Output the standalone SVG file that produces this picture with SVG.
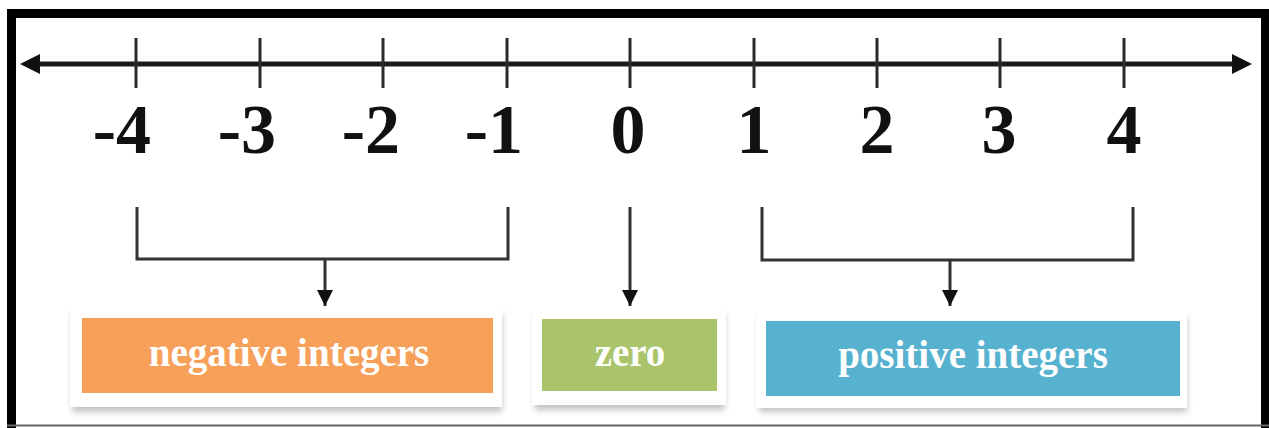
<svg xmlns="http://www.w3.org/2000/svg" width="1269" height="428" viewBox="0 0 1269 428">
  <defs>
    <style>
      .axis { stroke: #1a1a1a; stroke-width: 5; fill: none; }
      .tick { stroke: #2a2a2a; stroke-width: 3; }
      .num { font-family: "Liberation Serif", "Times New Roman", serif; font-weight: bold; font-size: 70px; fill: #111; }
      .conn { stroke: #333; stroke-width: 3; fill: none; }
      .lbl { font-family: "Liberation Serif", "Times New Roman", serif; font-weight: bold; font-size: 39px; fill: #ffffff; text-anchor: middle; }
      .card { fill: #ffffff; }
      .shadow { fill: #9a9a9a; opacity: 0.6; }
    </style>
    <filter id="blur" x="-10%" y="-20%" width="120%" height="140%">
      <feGaussianBlur stdDeviation="3"/>
    </filter>
    <marker id="ah" viewBox="0 0 10 10" refX="10" refY="5" markerWidth="5.5" markerHeight="7" orient="auto" markerUnits="strokeWidth">
      <path d="M0,0 L10,5 L0,10 Z" fill="#111"/>
    </marker>
  </defs>

  <rect x="0" y="0" width="1269" height="428" fill="#ffffff"/>

  <!-- frame -->
  <g id="frame">
    <rect x="7" y="9" width="1255" height="9" fill="#000"/>
    <rect x="7" y="9" width="9" height="419" fill="#000"/>
    <rect x="1261" y="9" width="8" height="419" fill="#000"/>
    <line x1="7" y1="425.5" x2="1269" y2="425.5" stroke="#666" stroke-width="2"/>
  </g>

  <!-- number line -->
  <g id="number-line">
    <line class="axis" x1="36" y1="64" x2="1236" y2="64"/>
    <path d="M20,64 L40,54 L40,74 Z" fill="#111"/>
    <path d="M1252,64 L1232,54 L1232,74 Z" fill="#111"/>
    <line class="tick" x1="136" y1="38" x2="136" y2="88"/>
    <line class="tick" x1="260" y1="38" x2="260" y2="88"/>
    <line class="tick" x1="383" y1="38" x2="383" y2="88"/>
    <line class="tick" x1="507" y1="38" x2="507" y2="88"/>
    <line class="tick" x1="630" y1="38" x2="630" y2="88"/>
    <line class="tick" x1="754" y1="38" x2="754" y2="88"/>
    <line class="tick" x1="877" y1="38" x2="877" y2="88"/>
    <line class="tick" x1="1000" y1="38" x2="1000" y2="88"/>
    <line class="tick" x1="1124" y1="38" x2="1124" y2="88"/>
  </g>

  <g id="numbers">
    <text class="num" x="151" y="153" text-anchor="end">-4</text>
    <text class="num" x="276" y="153" text-anchor="end">-3</text>
    <text class="num" x="400" y="153" text-anchor="end">-2</text>
    <text class="num" x="523" y="153" text-anchor="end">-1</text>
    <text class="num" x="628" y="153" text-anchor="middle">0</text>
    <text class="num" x="754" y="153" text-anchor="middle">1</text>
    <text class="num" x="877" y="153" text-anchor="middle">2</text>
    <text class="num" x="999" y="153" text-anchor="middle">3</text>
    <text class="num" x="1124" y="153" text-anchor="middle">4</text>
  </g>

  <!-- connectors -->
  <g id="connectors">
    <path class="conn" d="M137,207 V259 H508 V207"/>
    <line class="conn" x1="325" y1="259" x2="325" y2="306" marker-end="url(#ah)"/>
    <line class="conn" x1="630" y1="207" x2="630" y2="306" marker-end="url(#ah)"/>
    <path class="conn" d="M762,207 V260 H1133 V207"/>
    <line class="conn" x1="950" y1="260" x2="950" y2="306" marker-end="url(#ah)"/>
  </g>

  <!-- nodes -->
  <g id="negative-integers">
    <rect class="shadow" x="72" y="314" width="430" height="98" filter="url(#blur)"/>
    <rect class="card" x="70" y="307" width="432" height="100"/>
    <rect x="82" y="318" width="411" height="75" fill="#F6A05A"/>
    <text class="lbl" x="289" y="366">negative integers</text>
  </g>

  <g id="zero">
    <rect class="shadow" x="535" y="314" width="190" height="96" filter="url(#blur)"/>
    <rect class="card" x="532" y="307" width="194" height="98"/>
    <rect x="542" y="319" width="175" height="72" fill="#A9C46A"/>
    <text class="lbl" x="630" y="366">zero</text>
  </g>

  <g id="positive-integers">
    <rect class="shadow" x="759" y="316" width="428" height="96" filter="url(#blur)"/>
    <rect class="card" x="756" y="309" width="431" height="99"/>
    <rect x="766" y="321" width="414" height="75" fill="#56B2CF"/>
    <text class="lbl" x="973" y="368">positive integers</text>
  </g>
</svg>
